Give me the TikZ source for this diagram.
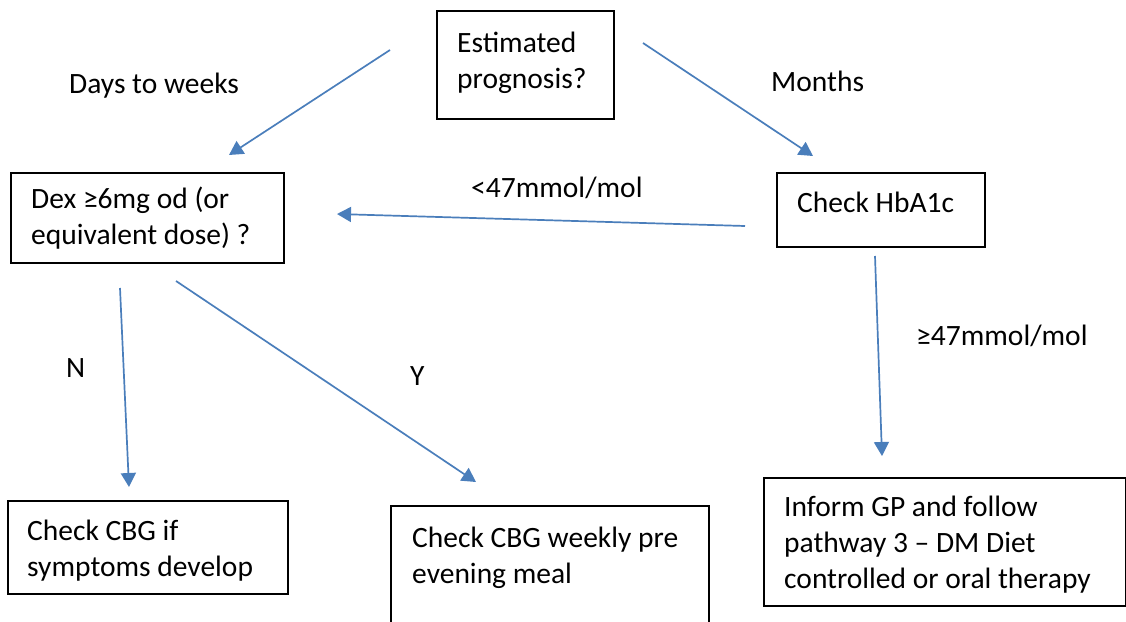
\documentclass[tikz,border=0pt]{standalone}
\usepackage{fontspec}
\setmainfont{Carlito}
\usetikzlibrary{arrows.meta}
\definecolor{arr}{HTML}{4A7EBB}
\begin{document}
\begin{tikzpicture}[x=1pt,y=-1pt,
  box/.style={draw=black,line width=2pt,inner sep=0pt,anchor=north west},
  txt/.style={font=\fontsize{29.5}{36}\selectfont,inner sep=0pt,anchor=base west,align=flush left,text width=#1},
  lbl/.style={font=\fontsize{29.5}{36}\selectfont,inner sep=0pt,anchor=base west},
  conn/.style={draw=arr,line width=1.7pt,-{Triangle[length=14pt,width=15pt]}}]
\clip (0,0) rectangle (1126,621);
\fill[white] (0,0) rectangle (1126,621);
% boxes
\node[box,minimum width=177pt,minimum height=108pt] (est) at (436,10) {};
\node[box,minimum width=273pt,minimum height=90pt] (dex) at (10,172) {};
\node[box,minimum width=208pt,minimum height=74pt] (hba) at (776,172) {};
\node[box,minimum width=280pt,minimum height=93pt] (cbgn) at (7,500) {};
\node[box,minimum width=318pt,minimum height=140pt] (cbgy) at (390,505) {};
\node[box,minimum width=362pt,minimum height=128pt] (gp) at (763,477) {};
% box texts
\node[txt=200pt] (estT) at (457,52) {Estimated\\prognosis?};
\node[txt=260pt] (dexT) at (31,208) {Dex ≥6mg od (or\\equivalent dose) ?};
\node[txt=200pt] (hbaT) at (797,212) {Check HbA1c};
\node[txt=260pt] (cbgnT) at (27,540) {Check CBG if\\symptoms develop};
\node[txt=300pt] (cbgyT) at (412,547) {Check CBG weekly pre\\evening meal};
\node[txt=340pt] (gpT) at (784,516) {Inform GP and follow\\pathway 3 – DM Diet\\controlled or oral therapy};
% labels
\node[lbl] (l1) at (69,93) {Days to weeks};
\node[lbl] (l2) at (771,91) {Months};
\node[lbl] (l3) at (471,197) {<47mmol/mol};
\node[lbl] (l4) at (916,345) {≥47mmol/mol};
\node[lbl] (l5) at (66,377) {N};
\node[lbl] (l6) at (410,385) {Y};
% connector ends
\coordinate (c1s) at (390,50);  \coordinate (c1e) at (229,155);
\coordinate (c2s) at (643,43);  \coordinate (c2e) at (813,156);
\coordinate (c3s) at (745,226); \coordinate (c3e) at (337,214);
\coordinate (c4s) at (875,256); \coordinate (c4e) at (882,456);
\coordinate (c5s) at (120,288); \coordinate (c5e) at (129,487);
\coordinate (c6s) at (176,281); \coordinate (c6e) at (476,482);
\draw[conn] (c1s) -- (c1e);
\draw[conn] (c2s) -- (c2e);
\draw[conn] (c3s) -- (c3e);
\draw[conn] (c4s) -- (c4e);
\draw[conn] (c5s) -- (c5e);
\draw[conn] (c6s) -- (c6e);
\end{tikzpicture}
\end{document}
